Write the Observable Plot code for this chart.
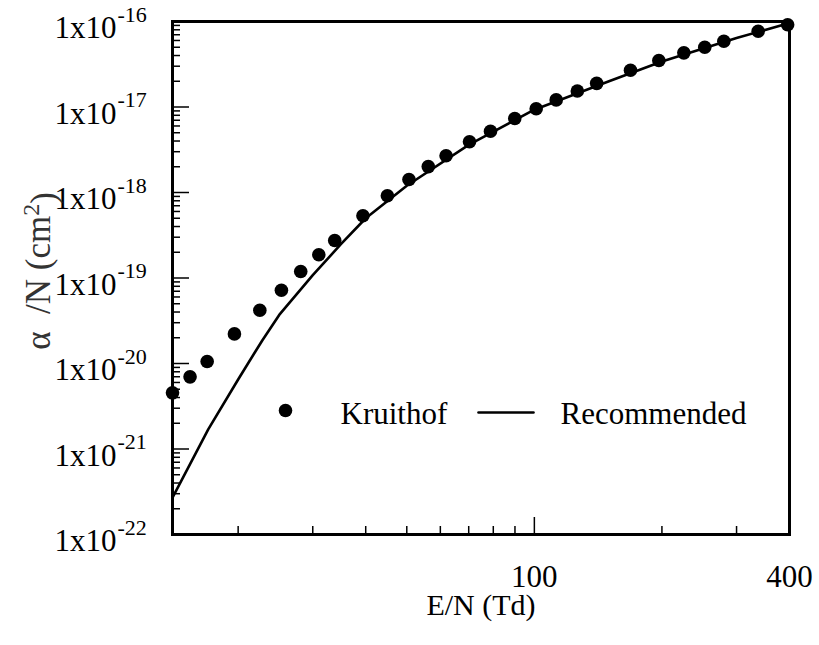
<!DOCTYPE html>
<html>
<head>
<meta charset="utf-8">
<script src="https://cdn.jsdelivr.net/npm/d3@7"></script>
<script src="https://cdn.jsdelivr.net/npm/@observablehq/plot@0.6"></script>
<style>
  body { margin: 0; background: #fff; }
  #chart svg { display: block; }
</style>
</head>
<body>
<div id="chart"></div>
<script>
// Kruithof data (points)
const kruithofE = [14, 15.4, 16.9, 19.6, 22.5, 25.3, 28.1, 31, 33.8, 39.4, 45, 50.6, 56.2, 61.9, 70.3, 78.8, 89.9, 101, 112.6, 126.3, 140.3, 168.6, 196.7, 225.3, 252.4, 280, 337.4, 396];
const kruithofA = [4.54e-21, 6.98e-21, 1.055e-20, 2.22e-20, 4.2e-20, 7.2e-20, 1.19e-19, 1.87e-19, 2.75e-19, 5.34e-19, 9.15e-19, 1.42e-18, 2.01e-18, 2.69e-18, 3.92e-18, 5.21e-18, 7.34e-18, 9.53e-18, 1.21e-17, 1.54e-17, 1.89e-17, 2.69e-17, 3.5e-17, 4.3e-17, 5.0e-17, 5.88e-17, 7.7e-17, 9.15e-17];

// Recommended curve (line)
const recE = [14, 17, 20, 22.8, 25, 30, 35, 40, 50, 70, 100, 150, 200, 300, 400];
const recA = [2.7e-22, 1.7e-21, 6.5e-21, 1.86e-20, 3.7e-20, 1.08e-19, 2.5e-19, 5.0e-19, 1.2e-18, 3.6e-18, 9.3e-18, 2.0e-17, 3.4e-17, 6.4e-17, 9.6e-17];

// Axis ticks and labels
const xMinorTicks = [20, 30, 40, 50, 60, 70, 80, 90, 200, 300];
const xMajorTicks = [100];
const xTickLabels = [100, 400];
const yMajorTicks = [1e-22, 1e-21, 1e-20, 1e-19, 1e-18, 1e-17, 1e-16];
const yExponentLabels = ["-22", "-21", "-20", "-19", "-18", "-17", "-16"];
const yMinorMantissas = [2, 3, 4, 5, 6, 7, 8, 9];
const legendLabels = ["Kruithof", "Recommended"];
const xTitle = "E/N (Td)";
const yTitle = "α\u00A0\u00A0/N (cm²)";

const kruithof = kruithofE.map((e, i) => ({e, a: kruithofA[i]}));
const recommended = recE.map((e, i) => ({e, a: recA[i]}));
const yMinorTicks = yMajorTicks.slice(0, -1).flatMap(d => yMinorMantissas.map(m => m * d));
const yMajor = yMajorTicks.map((v, i) => ({v, exp: yExponentLabels[i]}));

const lineShape = {draw(context, l) { context.moveTo(0, 0); context.lineTo(0, -l); }};
const font = "Liberation Serif, Times New Roman, serif";

const chart = Plot.plot({
  width: 819,
  height: 645,
  marginTop: 21,
  marginRight: 30,
  marginBottom: 111,
  marginLeft: 172,
  style: {fontFamily: font, background: "#fff", color: "#000"},
  x: {type: "log", domain: [14, 400], axis: null},
  y: {type: "log", domain: [1e-22, 1e-16], axis: null},
  marks: [
    // ticks (inward)
    Plot.axisX(xMinorTicks, {anchor: "bottom", tickSize: -8, tickFormat: () => "", label: null, strokeWidth: 1.5}),
    Plot.axisX(xMajorTicks, {anchor: "bottom", tickSize: -17, tickFormat: () => "", label: null, strokeWidth: 1.5}),
    Plot.axisY(yMinorTicks, {anchor: "left", tickSize: -8, tickFormat: () => "", label: null, strokeWidth: 1.5}),
    Plot.axisY(yMajorTicks, {anchor: "left", tickSize: -17, tickFormat: () => "", label: null, strokeWidth: 1.5}),
    // tick labels
    Plot.text(xTickLabels, {x: d => d, text: d => String(d), frameAnchor: "bottom", dy: 52, fontSize: 31}),
    Plot.text(yMajor, {y: "v", text: () => "1x10", frameAnchor: "left", textAnchor: "end", dx: -56, dy: 7, fontSize: 31}),
    Plot.text(yMajor, {y: "v", text: "exp", frameAnchor: "left", textAnchor: "start", dx: -55, dy: -7, fontSize: 22}),
    // axis titles
    Plot.text([xTitle], {frameAnchor: "bottom", textAnchor: "middle", dy: 80, fontSize: 30}),
    Plot.text([yTitle], {frameAnchor: "left", textAnchor: "middle", dx: -134, dy: -7, rotate: -90, fontSize: 35, fill: "#333", className: "ytitle"}),
    // data
    Plot.line(recommended, {x: "e", y: "a", stroke: "#000", strokeWidth: 2.6}),
    Plot.dot(kruithof, {x: "e", y: "a", r: 6.8, fill: "#000", stroke: "none"}),
    // legend
    Plot.dot([legendLabels[0]], {frameAnchor: "top-left", dx: 113, dy: 389, r: 6.8, fill: "#000", stroke: "none"}),
    Plot.text([legendLabels[0]], {frameAnchor: "top-left", dx: 168, dy: 380, textAnchor: "start", fontSize: 31}),
    Plot.vector([legendLabels[1]], {frameAnchor: "top-left", dx: 306, dy: 391, length: 55, rotate: 90, anchor: "start", shape: lineShape, stroke: "#000", strokeWidth: 2.6}),
    Plot.text([legendLabels[1]], {frameAnchor: "top-left", dx: 388, dy: 380, textAnchor: "start", fontSize: 31}),
    // frame
    Plot.frame({stroke: "#000", strokeWidth: 3})
  ]
});

// superscript the "2" in the y title as a real tspan
d3.select(chart).selectAll("g.ytitle text").each(function() {
  const t = d3.select(this);
  const s = t.text();
  const idx = s.indexOf("²");
  if (idx >= 0) {
    t.text(null);
    t.append("tspan").text(s.slice(0, idx));
    t.append("tspan").attr("dy", "-0.45em").attr("font-size", 24).text("2");
    t.append("tspan").attr("dy", "0.45em").text(s.slice(idx + 1));
  }
});

document.getElementById("chart").appendChild(chart);
</script>
</body>
</html>
